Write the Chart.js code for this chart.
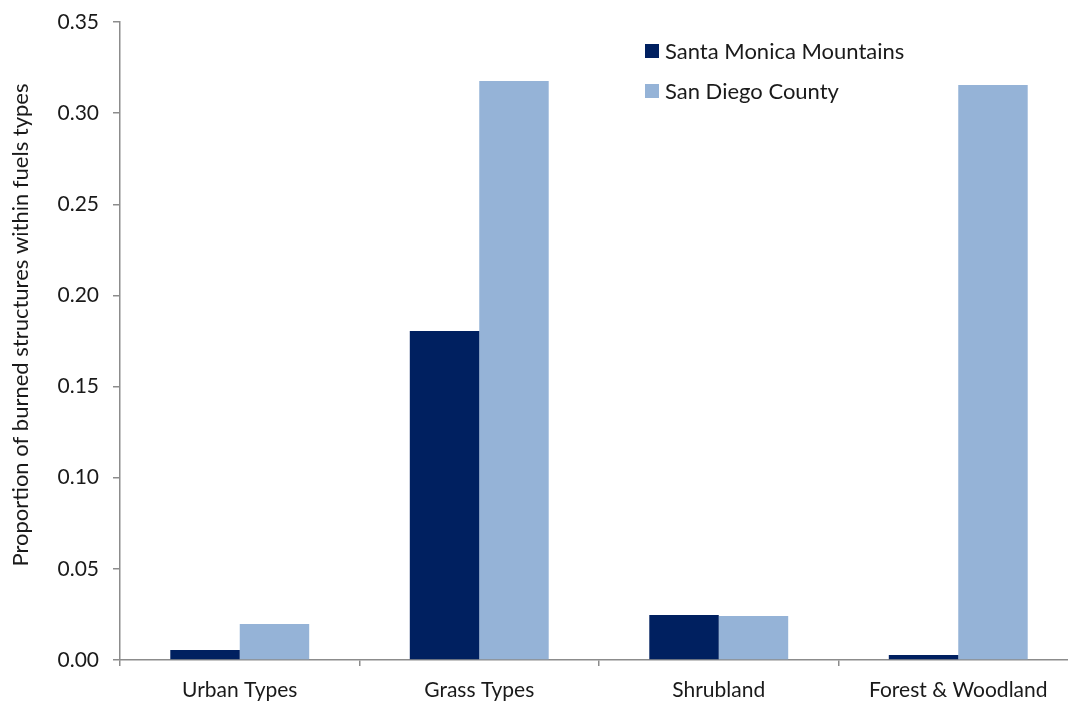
<!DOCTYPE html>
<html>
<head>
<meta charset="utf-8">
<script src="https://cdn.jsdelivr.net/npm/chart.js@4/dist/chart.umd.min.js"></script>
<style>
  html, body { margin:0; padding:0; background:#fff; overflow:hidden; }
  #wrap { width:1078px; height:704px; position:relative; }
</style>
</head>
<body>
<div id="wrap"><canvas id="c"></canvas></div>
<script>
const categories = ['Urban Types', 'Grass Types', 'Shrubland', 'Forest & Woodland'];
const santaMonica = [0.0055, 0.1805, 0.0247, 0.0027];
const sanDiego = [0.0197, 0.3176, 0.0241, 0.3154];
const seriesNames = ['Santa Monica Mountains', 'San Diego County'];
const yTicks = [0, 0.05, 0.10, 0.15, 0.20, 0.25, 0.30, 0.35];
const yTitle = 'Proportion of burned structures within fuels types';

const FONT = 'Lato, "Open Sans", sans-serif';
const dark = '#002060';
const light = '#95B3D7';
const axisColor = '#8c8c8c';

const annotPlugin = {
  id: 'insetLegendAndTitle',
  afterDraw(chart) {
    const ctx = chart.ctx;
    ctx.save();
    ctx.font = '22px ' + FONT;
    ctx.textBaseline = 'middle';
    ctx.textAlign = 'left';
    chart.data.datasets.forEach((ds, i) => {
      const y = 51 + i * 40;
      ctx.fillStyle = ds.backgroundColor;
      ctx.fillRect(645, y - 7, 14, 14);
      ctx.fillStyle = '#1a1a1a';
      ctx.fillText(ds.label, 665, y + 1);
    });
    // y-axis title
    ctx.translate(21, 325);
    ctx.rotate(-Math.PI / 2);
    ctx.textAlign = 'center';
    ctx.font = '22px ' + FONT;
    ctx.fillText(yTitle, 0, 0);
    ctx.restore();
  }
};

new Chart(document.getElementById('c'), {
  type: 'bar',
  data: {
    labels: categories,
    datasets: [
      { label: seriesNames[0], data: santaMonica, backgroundColor: dark },
      { label: seriesNames[1], data: sanDiego, backgroundColor: light }
    ]
  },
  options: {
    responsive: true,
    maintainAspectRatio: false,
    animation: false,
    devicePixelRatio: 1,
    layout: { padding: { top: 22, left: 6, right: 0, bottom: 2 } },
    datasets: { bar: { categoryPercentage: 0.58, barPercentage: 1.0 } },
    plugins: { legend: { display: false }, tooltip: { enabled: false } },
    scales: {
      x: {
        grid: { display: true, drawOnChartArea: false, drawTicks: true, tickLength: 6, color: axisColor, lineWidth: 1.5, offset: true },
        border: { display: true, color: axisColor, width: 1.5 },
        ticks: { color: '#1a1a1a', font: { family: FONT, size: 21 }, padding: 12 },
        afterFit(s) { s.height = 42; s.paddingLeft = 0; s.paddingRight = 0; }
      },
      y: {
        min: 0, max: 0.35,
        afterBuildTicks(s) { s.ticks = yTicks.map(v => ({ value: v })); },
        grid: { display: true, drawOnChartArea: false, drawTicks: true, tickLength: 7, color: axisColor, lineWidth: 1.5 },
        border: { display: true, color: axisColor, width: 1.5 },
        ticks: { color: '#1a1a1a', font: { family: FONT, size: 21 }, padding: 14,
                 callback: v => Number(v).toFixed(2) },
        title: { display: false },
        afterFit(s) { s.width = 114; s.paddingTop = 0; s.paddingBottom = 0; }
      }
    }
  },
  plugins: [annotPlugin]
});
</script>
</body>
</html>
